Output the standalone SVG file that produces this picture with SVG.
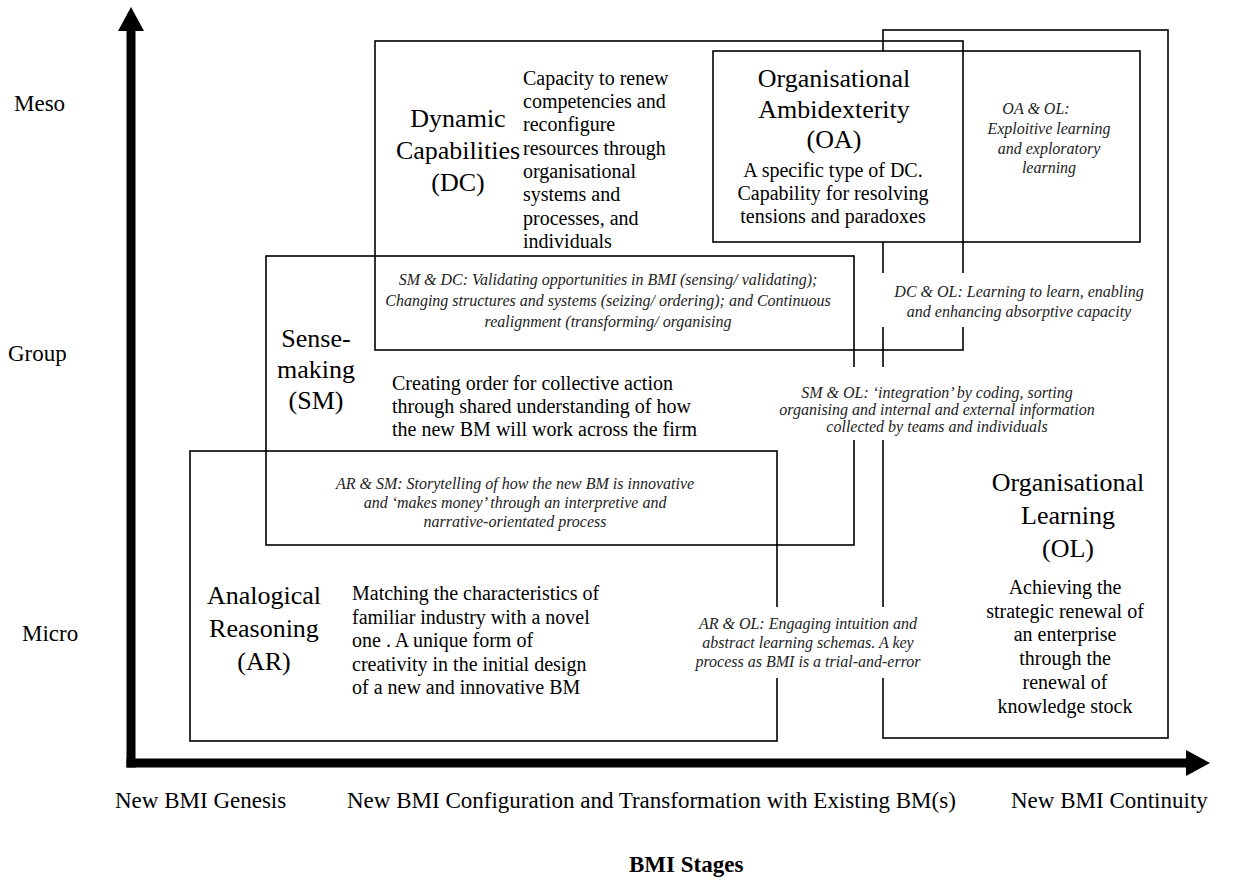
<svg xmlns="http://www.w3.org/2000/svg" width="1234" height="886" viewBox="0 0 1234 886">
<style>
.bg{fill:#fff}
.box{fill:none;stroke:#000;stroke-width:1.6}
.boxw{fill:#fff;stroke:#000;stroke-width:1.6}
.gap{fill:#fff;stroke:none}
.t{font-family:"Liberation Serif","Times New Roman",serif;fill:#000}
.title{font-size:26px;text-anchor:middle}
.desc{font-size:20px}
.descc{font-size:20px;text-anchor:middle}
.it{font-family:"Liberation Serif","Times New Roman",serif;font-style:italic;font-size:16px;text-anchor:middle;fill:#222}
.ax{font-size:23px}
.axis{stroke:#000;stroke-width:9;fill:none}
</style>
<defs>
<marker id="arrow" viewBox="0 0 24 26" refX="1" refY="13" markerWidth="24" markerHeight="26" markerUnits="userSpaceOnUse" orient="auto">
<path d="M0,0 L24,13 L0,26 Z" fill="#000"/>
</marker>
</defs>
<rect class="bg" x="0" y="0" width="1234" height="886"/>

<g id="connectors">
<line class="axis" x1="131" y1="767.5" x2="131" y2="30" marker-end="url(#arrow)"/>
<line class="axis" x1="126.5" y1="763" x2="1187" y2="763" marker-end="url(#arrow)"/>
</g>

<g id="node-ol-box"><rect class="box" x="883" y="30" width="285" height="708"/></g>
<g id="node-oa-box"><rect class="boxw" x="713" y="51" width="427" height="191"/></g>
<g id="node-dc-box"><rect class="box" x="375" y="41" width="588" height="309"/></g>
<g id="node-sm-box"><rect class="box" x="266" y="256" width="588" height="289"/></g>
<g id="node-ar-box"><rect class="box" x="190" y="451" width="587" height="290"/></g>

<g id="axis-labels" class="t ax">
<text x="14" y="111">Meso</text>
<text x="8" y="361">Group</text>
<text x="22" y="641">Micro</text>
<text x="115" y="808">New BMI Genesis</text>
<text x="347" y="808">New BMI Configuration and Transformation with Existing BM(s)</text>
<text x="1011" y="808">New BMI Continuity</text>
<text x="629" y="872" font-weight="bold">BMI Stages</text>
</g>

<g id="node-dc" class="t">
<text class="title" x="458" y="127">Dynamic</text>
<text class="title" x="458" y="159">Capabilities</text>
<text class="title" x="458" y="191">(DC)</text>
<text class="desc" x="523" y="85">Capacity to renew</text>
<text class="desc" x="523" y="108">competencies and</text>
<text class="desc" x="523" y="131">reconfigure</text>
<text class="desc" x="523" y="155">resources through</text>
<text class="desc" x="523" y="178">organisational</text>
<text class="desc" x="523" y="201">systems and</text>
<text class="desc" x="523" y="225">processes, and</text>
<text class="desc" x="523" y="248">individuals</text>
</g>

<g id="node-oa" class="t">
<text class="title" x="834" y="87">Organisational</text>
<text class="title" x="834" y="118">Ambidexterity</text>
<text class="title" x="834" y="148">(OA)</text>
<text class="descc" x="833" y="177" font-size="18px">A specific type of DC.</text>
<text class="descc" x="833" y="200" font-size="18px">Capability for resolving</text>
<text class="descc" x="833" y="223" font-size="18px">tensions and paradoxes</text>
</g>

<g id="node-oa-ol">
<text class="it" x="1036" y="114">OA &amp; OL:</text>
<text class="it" x="1049" y="134">Exploitive learning</text>
<text class="it" x="1049" y="154">and exploratory</text>
<text class="it" x="1049" y="173">learning</text>
</g>

<g id="node-sm-dc">
<text class="it" x="608" y="285" font-size="17px">SM &amp; DC: Validating opportunities in BMI (sensing/ validating);</text>
<text class="it" x="608" y="306" font-size="17px">Changing structures and systems (seizing/ ordering); and Continuous</text>
<text class="it" x="608" y="327" font-size="17px">realignment (transforming/ organising</text>
</g>

<g id="node-dc-ol">
<rect class="gap" x="866" y="273" width="294" height="54"/>
<text class="it" x="1019" y="297">DC &amp; OL: Learning to learn, enabling</text>
<text class="it" x="1019" y="317">and enhancing absorptive capacity</text>
</g>

<g id="node-sm" class="t">
<text class="title" x="316" y="347" font-size="27px">Sense-</text>
<text class="title" x="316" y="378" font-size="27px">making</text>
<text class="title" x="316" y="409" font-size="27px">(SM)</text>
<text class="desc" x="392" y="390" font-size="21px">Creating order for collective action</text>
<text class="desc" x="392" y="413" font-size="21px">through shared understanding of how</text>
<text class="desc" x="392" y="436" font-size="21px">the new BM will work across the firm</text>
</g>

<g id="node-sm-ol">
<rect class="gap" x="760" y="367" width="350" height="73"/>
<text class="it" x="937" y="398" font-size="15.5px">SM &amp; OL:  ‘integration’ by coding, sorting</text>
<text class="it" x="937" y="415" font-size="15.5px">organising and internal and external information</text>
<text class="it" x="937" y="432" font-size="15.5px">collected by teams and individuals</text>
</g>

<g id="node-ar-sm">
<text class="it" x="515" y="489">AR &amp; SM: Storytelling of how the new BM is innovative</text>
<text class="it" x="515" y="508">and ‘makes money’ through an interpretive and</text>
<text class="it" x="515" y="527">narrative-orientated process</text>
</g>

<g id="node-ar" class="t">
<text class="title" x="264" y="604">Analogical</text>
<text class="title" x="264" y="637">Reasoning</text>
<text class="title" x="264" y="670">(AR)</text>
<text class="desc" x="352" y="600">Matching the characteristics of</text>
<text class="desc" x="352" y="624">familiar industry with a novel</text>
<text class="desc" x="352" y="647">one . A unique form of</text>
<text class="desc" x="352" y="671">creativity in the initial design</text>
<text class="desc" x="352" y="694">of a new and innovative BM</text>
</g>

<g id="node-ar-ol">
<rect class="gap" x="690" y="607" width="236" height="71"/>
<text class="it" x="808" y="629">AR &amp; OL: Engaging intuition and</text>
<text class="it" x="808" y="648">abstract learning schemas. A key</text>
<text class="it" x="808" y="667">process as BMI is a trial-and-error</text>
</g>

<g id="node-ol" class="t">
<text class="title" x="1068" y="491">Organisational</text>
<text class="title" x="1068" y="524">Learning</text>
<text class="title" x="1068" y="557">(OL)</text>
<text class="descc" x="1065" y="594">Achieving the</text>
<text class="descc" x="1065" y="618">strategic renewal of</text>
<text class="descc" x="1065" y="641">an enterprise</text>
<text class="descc" x="1065" y="665">through the</text>
<text class="descc" x="1065" y="689">renewal of</text>
<text class="descc" x="1065" y="713">knowledge stock</text>
</g>
</svg>
